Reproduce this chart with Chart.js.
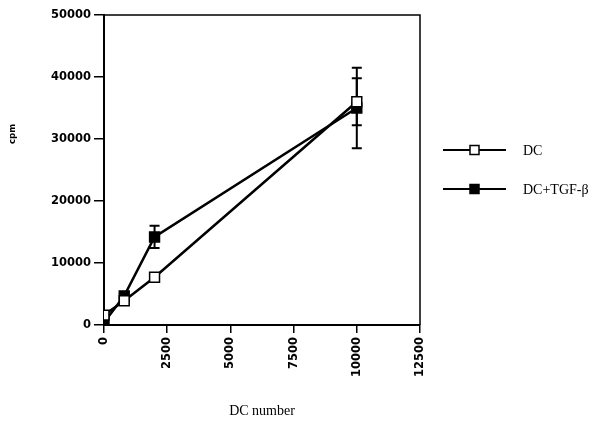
<!DOCTYPE html>
<html>
<head>
<meta charset="utf-8">
<script src="https://cdn.jsdelivr.net/npm/chart.js@4"></script>
<style>
  html, body { margin: 0; padding: 0; background: #fff; }
  #wrap { width: 590px; height: 424px; }
</style>
</head>
<body>
<div id="wrap"><canvas id="chart" width="590" height="424"></canvas></div>
<script>
// datos
const dcNumber = [0, 800, 2000, 10000];
const dcValues = [1600, 3900, 7700, 36000];
const tgfValues = [400, 4700, 14200, 35000];
const dcErrors = [0, 0, 0, 3800];
const tgfErrors = [0, 0, 1800, 6500];
const seriesNames = ['DC', 'DC+TGF-\u03B2'];
const xTitle = 'DC number';
const yTitle = 'cpm';

const ctx = document.getElementById('chart');

function puntos(vals) {
    return dcNumber.map((x, i) => ({ x: x, y: vals[i] }));
}

// etiquetas sin separador de miles
function sinComas(v) {
    return String(v);
}

// barras de error, caja y leyenda
const extras = {
    id: 'extras',
    beforeDatasetsDraw(chart) {
        const c = chart.ctx;
        const xs = chart.scales.x, ys = chart.scales.y;
        const errs = [dcErrors, tgfErrors];
        c.save();
        c.strokeStyle = '#000';
        c.lineWidth = 2;
        chart.data.datasets.forEach((ds, d) => {
            ds.data.forEach((p, i) => {
                const e = errs[d][i];
                if (!e) return;
                const px = xs.getPixelForValue(p.x);
                const top = ys.getPixelForValue(p.y + e);
                const bot = ys.getPixelForValue(p.y - e);
                c.beginPath();
                c.moveTo(px, top); c.lineTo(px, bot);
                c.moveTo(px - 5, top); c.lineTo(px + 5, top);
                c.moveTo(px - 5, bot); c.lineTo(px + 5, bot);
                c.stroke();
            });
        });
        c.restore();
    },
    afterDraw(chart) {
        const c = chart.ctx;
        const a = chart.chartArea;
        c.save();
        c.strokeStyle = '#000';
        c.lineWidth = 1.5;
        c.beginPath();
        c.moveTo(a.left, a.top); c.lineTo(a.right, a.top); c.lineTo(a.right, a.bottom);
        c.stroke();

        // titulos
        c.fillStyle = '#000';
        c.font = '14px "Liberation Serif"';
        c.textAlign = 'center';
        c.textBaseline = 'middle';
        c.fillText(xTitle, (a.left + a.right) / 2, 411);
        c.save();
        c.translate(13, 134);
        c.rotate(-Math.PI / 2);
        c.font = 'bold 8.5px "DejaVu Sans"';
        c.fillText(yTitle, 0, 0);
        c.restore();

        // leyenda
        const ys = [150, 189];
        chart.data.datasets.forEach((ds, d) => {
            const y = ys[d];
            c.lineWidth = 2;
            c.beginPath();
            c.moveTo(443, y); c.lineTo(506, y);
            c.stroke();
            c.fillStyle = ds.pointBackgroundColor;
            c.fillRect(470, y - 4.5, 9, 9);
            c.lineWidth = 1.5;
            c.strokeRect(470, y - 4.5, 9, 9);
            c.fillStyle = '#000';
            c.font = '14px "Liberation Serif"';
            c.textAlign = 'left';
            c.fillText(seriesNames[d], 523, y + 1);
        });
        c.restore();
    }
};

new Chart(ctx, {
    type: 'scatter',
    data: {
        datasets: [{
            label: seriesNames[0],
            data: puntos(dcValues),
            showLine: true,
            borderColor: '#000',
            borderWidth: 2.5,
            pointStyle: 'rect',
            pointRadius: 7,
            pointBorderWidth: 1.5,
            pointBorderColor: '#000',
            pointBackgroundColor: '#fff'
        }, {
            label: seriesNames[1],
            data: puntos(tgfValues),
            showLine: true,
            borderColor: '#000',
            borderWidth: 2.5,
            pointStyle: 'rect',
            pointRadius: 7,
            pointBorderWidth: 1.5,
            pointBorderColor: '#000',
            pointBackgroundColor: '#000'
        }]
    },
    options: {
        responsive: false,
        animation: false,
        layout: { padding: { left: 0, top: 15, right: 170, bottom: 0 } },
        plugins: { legend: { display: false }, tooltip: { enabled: false } },
        scales: {
            x: {
                type: 'linear',
                min: 0,
                max: 12500,
                afterFit: (s) => { s.height = 99; },
                ticks: {
                    stepSize: 2500,
                    minRotation: 90,
                    maxRotation: 90,
                    padding: 4,
                    color: '#000',
                    callback: sinComas,
                    font: { family: 'DejaVu Sans', size: 11.5, weight: 'bold' }
                },
                grid: { drawOnChartArea: false, color: '#000', tickLength: 8, lineWidth: 1.5 },
                border: { color: '#000', width: 2 }
            },
            y: {
                min: 0,
                max: 50000,
                afterFit: (s) => { s.width = 104; },
                ticks: {
                    stepSize: 10000,
                    padding: 3,
                    color: '#000',
                    callback: sinComas,
                    font: { family: 'DejaVu Sans', size: 11.5, weight: 'bold' }
                },
                grid: { drawOnChartArea: false, color: '#000', tickLength: 10, lineWidth: 1.5 },
                border: { color: '#000', width: 2 }
            }
        }
    },
    plugins: [extras]
});
</script>
</body>
</html>
